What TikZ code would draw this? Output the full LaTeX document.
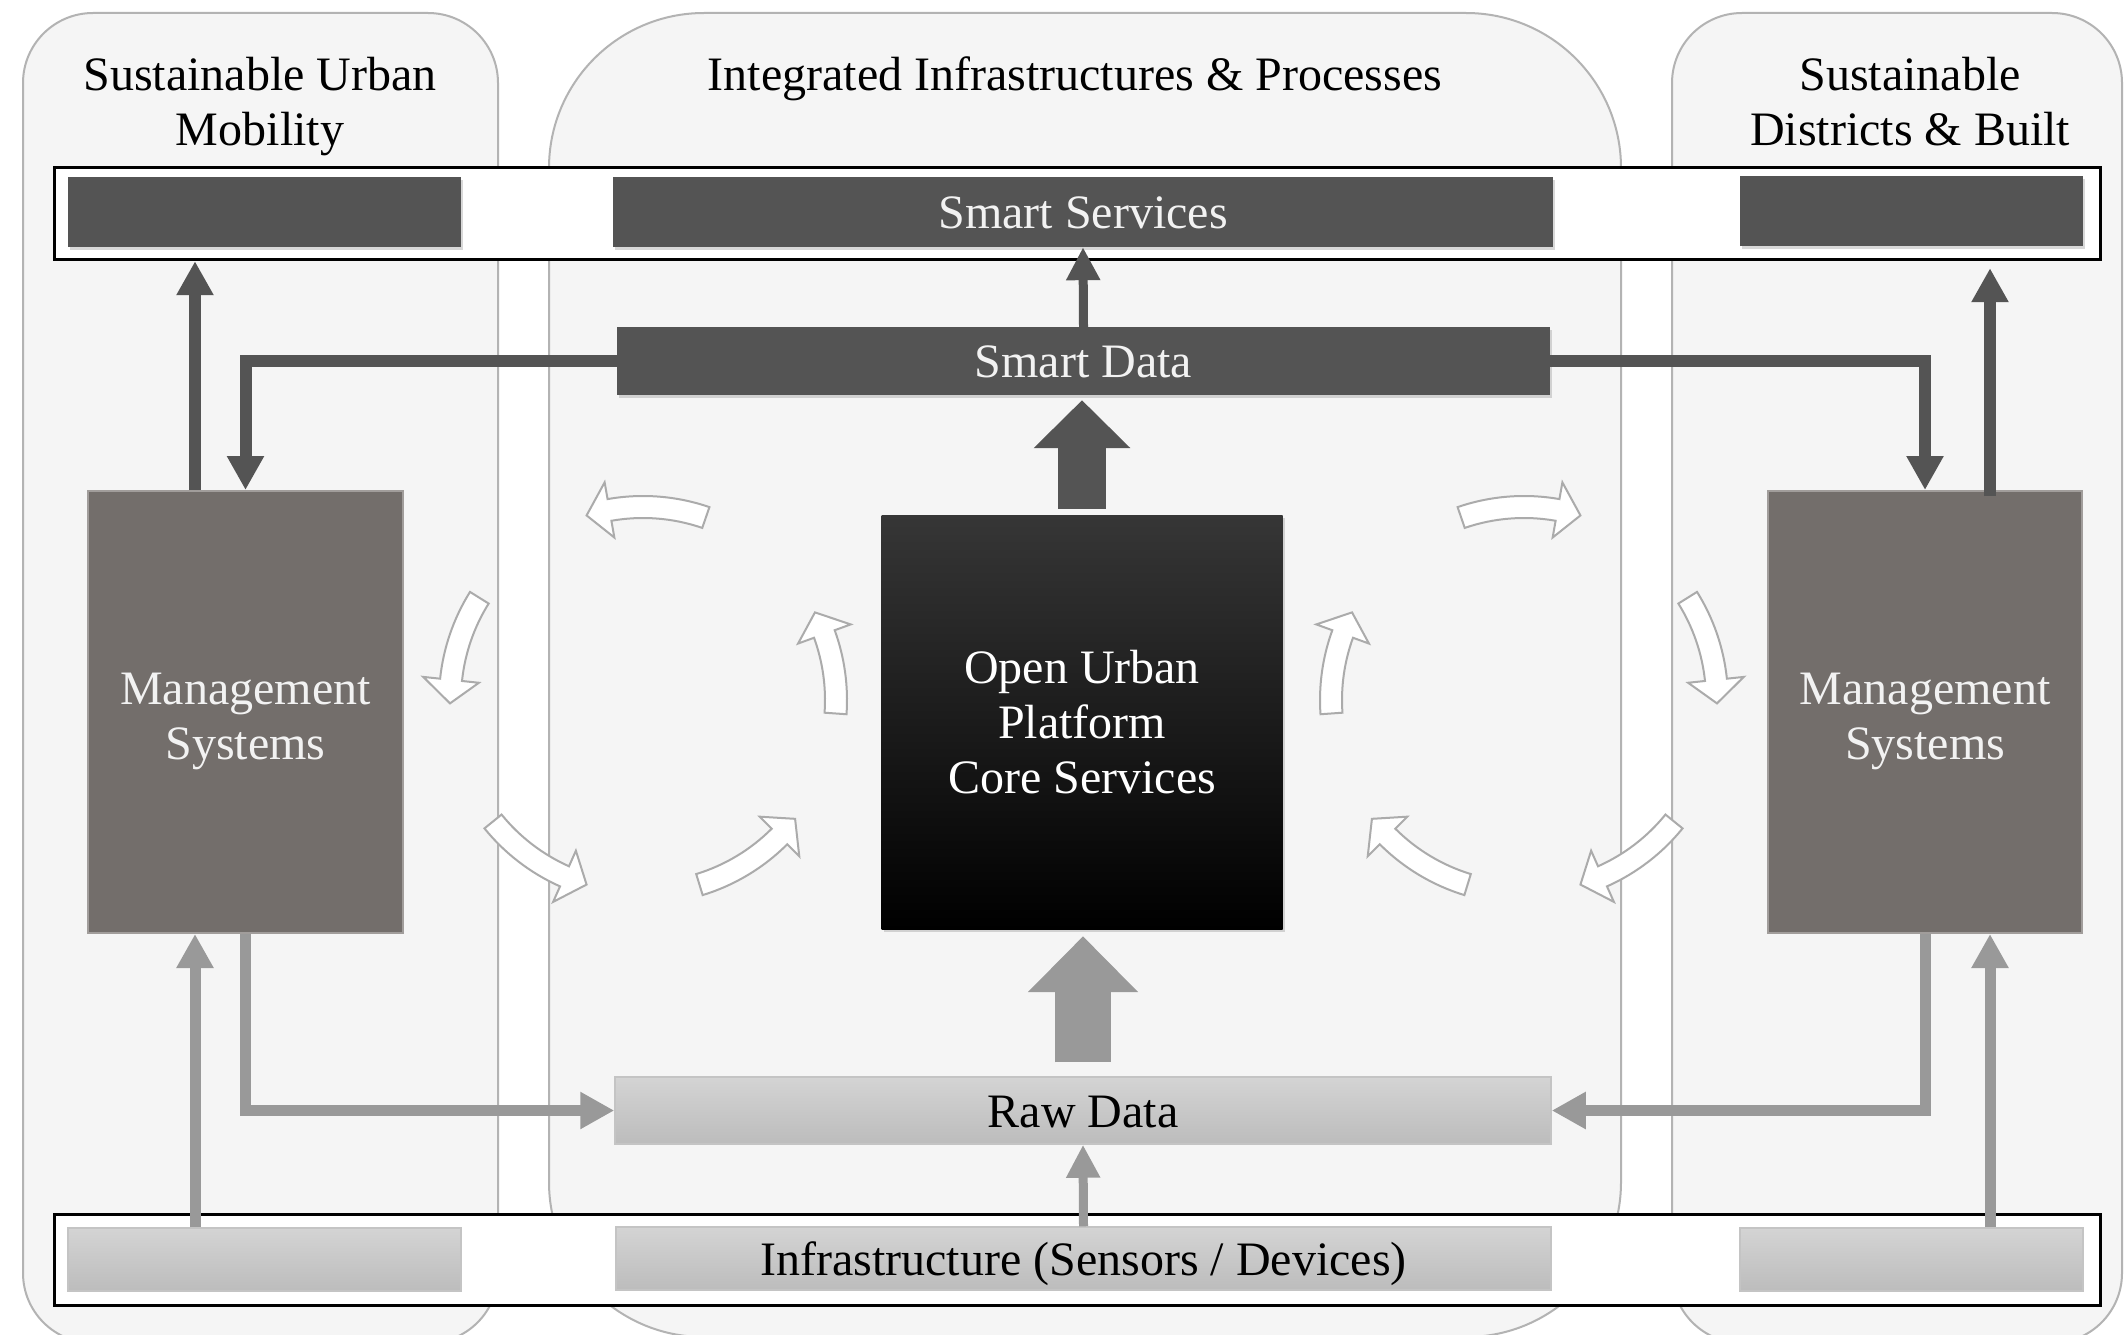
\documentclass[tikz,border=0pt]{standalone}
\usepackage{fontspec}
\setmainfont{Liberation Serif}
\usetikzlibrary{arrows.meta,shadows}
\definecolor{panelfill}{HTML}{F5F5F5}
\definecolor{panelline}{HTML}{B3B3B3}
\definecolor{darkbox}{HTML}{545454}
\definecolor{mgmtfill}{HTML}{736E6B}
\definecolor{mgmtline}{HTML}{A19D9B}
\definecolor{lightarr}{HTML}{999999}
\definecolor{rawtop}{HTML}{D4D4D4}
\definecolor{rawbot}{HTML}{BCBCBC}
\definecolor{rawline}{HTML}{C4C4C4}
\definecolor{wline}{HTML}{ABABAB}
\definecolor{oupTop}{HTML}{363636}
\definecolor{txtlight}{HTML}{F2F2F2}

\newcommand{\carw}[6]{%
  \draw[warr] ({#1+(#3+11)*cos(#4)},{#2+(#3+11)*sin(#4)})
    arc[start angle=#4, end angle=#5, radius=#3+11]
    -- ({#1+(#3+28)*cos(#5)},{#2+(#3+28)*sin(#5)})
    -- ({#1+#3*cos(#6)},{#2+#3*sin(#6)})
    -- ({#1+(#3-28)*cos(#5)},{#2+(#3-28)*sin(#5)})
    -- ({#1+(#3-11)*cos(#5)},{#2+(#3-11)*sin(#5)})
    arc[start angle=#5, end angle=#4, radius=#3-11]
    -- cycle;}

\begin{document}
\begin{tikzpicture}[x=1pt,y=-1pt,
  panel/.style={fill=panelfill, draw=panelline, line width=2pt},
  band/.style={fill=white, draw=black, line width=3pt},
  bigfont/.style={font=\fontsize{48}{55}\selectfont},
  title/.style={bigfont, align=center, inner sep=0pt, anchor=base, text=black},
  dbox/.style={bigfont, fill=darkbox, inner sep=0pt, text=txtlight,
    text height=33pt, text depth=0pt,
    drop shadow={shadow xshift=2pt, shadow yshift=-3pt, opacity=0.3}},
  mbox/.style={bigfont, fill=mgmtfill, draw=mgmtline, line width=2pt,
    inner sep=0pt, text=txtlight, align=center},
  oupbox/.style={bigfont, top color=oupTop, bottom color=black, draw=none,
    inner sep=0pt, text=white, align=center,
    drop shadow={shadow xshift=2pt, shadow yshift=-3pt, opacity=0.3}},
  lbox/.style={bigfont, top color=rawtop, bottom color=rawbot, draw=rawline,
    line width=1.5pt, inner sep=0pt, text=black,
    text height=33pt, text depth=0pt},
  darr/.style={draw=darkbox, line width=12pt,
    -{Triangle[width=35pt,length=34pt]}},
  larr/.style={draw=lightarr, line width=11pt,
    -{Triangle[width=35pt,length=34pt]}},
  thinarr/.style={line width=9pt, -{Triangle[width=32pt,length=33pt]}},
  warr/.style={fill=white, draw=wline, line width=2pt, line join=miter}
]
\useasboundingbox (0,0) rectangle (2125,1335);
\begin{scope}
\clip (0,0) rectangle (2125,1335);
\fill[white] (0,0) rectangle (2125,1335);
% panels
\draw[panel, rounded corners=70pt] (23,13) rectangle (498,1343);
\draw[panel, rounded corners=155pt] (549,13) rectangle (1621,1337);
\draw[panel, rounded corners=70pt] (1672,13) rectangle (2122,1343);
\end{scope}

% titles (base anchor = baseline of the last line)
\node[title] (tL) at (260,146) {Sustainable Urban\\Mobility};
\node[title] (tC) at (1075,91) {Integrated Infrastructures \& Processes};
\node[title] (tR) at (1910,146) {Sustainable\\Districts \& Built};

% bands
\draw[band] (54,167) rectangle (2100,259);
\draw[band] (54,1214) rectangle (2100,1305);

% top row
\node[dbox, minimum width=393pt, minimum height=70pt] (ssL) at (264.5,212) {};
\node[dbox, minimum width=940pt, minimum height=70pt] (ssC) at (1083,212) {Smart Services};
\node[dbox, minimum width=343pt, minimum height=70pt] (ssR) at (1911.5,211) {};

\node[dbox, minimum width=933pt, minimum height=68pt] (sdata) at (1083.5,361) {Smart Data};

\node[oupbox, minimum width=401pt, minimum height=414pt] (oup) at (1082,722)
  {Open Urban\\Platform\\Core Services};

\node[mbox, minimum width=315pt, minimum height=442pt] (mgL) at (245.5,712) {\rule{0pt}{51pt}Management\\Systems};
\node[mbox, minimum width=314pt, minimum height=442pt] (mgR) at (1925,712) {\rule{0pt}{51pt}Management\\Systems};

\node[lbox, minimum width=936pt, minimum height=67pt] (raw) at (1083,1110.5) {Raw Data};

\node[lbox, minimum width=393pt, minimum height=63pt] (infL) at (264.5,1259.5) {};
\node[lbox, minimum width=935pt, minimum height=63pt] (infC) at (1083.5,1258.5) {Infrastructure (Sensors / Devices)};
\node[lbox, minimum width=343pt, minimum height=63pt] (infR) at (1911.5,1259.5) {};

\coordinate (xl) at (195,0);
\coordinate (xr) at (1990,0);

% dark connectors
\draw[darr, shorten >=14pt] (mgL.north -| xl) -- (ssL.south -| xl);
\draw[darr] (sdata.west) -| (mgL.north);
\draw[darr] (sdata.east) -| (mgR.north);
\draw[darr, shorten >=22pt] ([yshift=-6pt]mgR.north -| xr) -- (ssR.south -| xr);
\draw[darr, thinarr] (sdata.north) -- (ssC.south);
\draw[draw=darkbox, line width=48pt, -{Triangle[width=94pt,length=48pt]},
  shorten <=6pt, shorten >=5pt] (oup.north) -- (oup.north |- sdata.south);

% light connectors
\draw[larr] (infL.north -| xl) -- (mgL.south -| xl);
\draw[larr] (mgL.south) |- (raw.west);
\draw[larr] (mgR.south) |- (raw.east);
\draw[larr] (infR.north -| xr) -- (mgR.south -| xr);
\draw[larr, thinarr] (infC.north) -- (raw.south);
\draw[draw=lightarr, line width=56pt, -{Triangle[width=107pt,length=56pt]},
  shorten <=14pt, shorten >=7pt] (raw.north) -- (raw.north |- oup.south);

% white cycle arrows, left
\carw{643}{700}{193}{-71}{-100}{-107}
\carw{643}{700}{193}{-148}{-174}{-181}
\carw{643}{700}{193}{-219}{-246}{-253}
\carw{643}{700}{193}{-287}{-315}{-322}
\carw{643}{700}{193}{4}{-20}{-27}
% white cycle arrows, right
\carw{1524}{700}{193}{251}{280}{287}
\carw{1524}{700}{193}{328}{354}{361}
\carw{1524}{700}{193}{39}{66}{73}
\carw{1524}{700}{193}{107}{135}{142}
\carw{1524}{700}{193}{176}{200}{207}
\end{tikzpicture}
\end{document}
